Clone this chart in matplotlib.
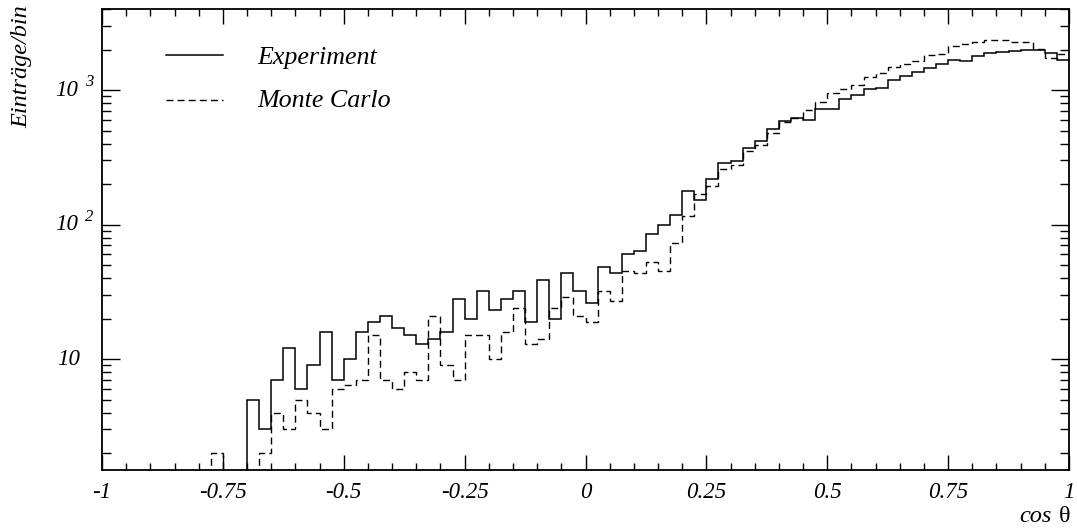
import numpy as np
import matplotlib
matplotlib.use("Agg")
import matplotlib.pyplot as plt
from matplotlib import transforms
from matplotlib.ticker import MultipleLocator, LogLocator, NullFormatter, FixedLocator

# ---------------- data ----------------
x_range = [-1.0, 1.0]
n_bins = 80

experiment = [
    0, 0, 0, 0, 0, 0, 0, 0, 0, 0,
    0, 0, 5, 3, 7, 12, 6, 9, 16, 7,
    10, 16, 19, 21, 17, 15, 13, 14, 16, 28,
    20, 32, 23, 28, 32, 19, 39, 20, 44, 32,
    26, 48, 44, 60, 64, 85, 99, 117, 178, 152,
    217, 285, 297, 373, 416, 511, 588, 620, 602, 719,
    719, 853, 913, 1017, 1040, 1180, 1264, 1353, 1449, 1552,
    1665, 1645, 1778, 1893, 1915, 1953, 1986, 1990, 1893, 1670,
]

monte_carlo = [
    0, 0, 0, 0, 0, 0, 0, 0, 0, 2,
    0, 0, 0, 2, 4, 3, 5, 4, 3, 6,
    6.4, 7, 15, 7, 6, 8, 7, 21, 9, 7,
    15, 15, 10, 16, 24, 13, 14, 24, 29, 21,
    19, 32, 27, 45, 44, 53, 45, 73, 115, 168,
    195, 259, 277, 352, 390, 482, 580, 615, 710, 818,
    945, 1017, 1084, 1242, 1330, 1482, 1552, 1641, 1810, 1860,
    2120, 2190, 2265, 2350, 2370, 2262, 2262, 2020, 1720, 1850,
]

x_ticks = [-1, -0.75, -0.5, -0.25, 0, 0.25, 0.5, 0.75, 1]
x_tick_labels = ["-1", "-0.75", "-0.5", "-0.25", "0", "0.25", "0.5", "0.75", "1"]
y_decades = [10, 100, 1000]
y_limits = [1.5, 4000]
legend_labels = ["Experiment", "Monte Carlo"]
y_label = "Einträge/bin"
x_label_text = "cos"
x_label_symbol = "θ"

# ---------------- figure ----------------
W, H = 1077, 531
fig = plt.figure(figsize=(W / 100, H / 100), dpi=100)
ax_l, ax_r, ax_b, ax_t = 102, 1069, 470, 9
ax = fig.add_axes([ax_l / W, (H - ax_b) / H, (ax_r - ax_l) / W, (ax_b - ax_t) / H])

serif = "Liberation Serif"
tick_font = dict(family=serif, style="italic", size=16.5)

edges = np.linspace(x_range[0], x_range[1], n_bins + 1)
exp_arr = np.asarray(experiment, dtype=float)
mc_arr = np.asarray(monte_carlo, dtype=float)
tiny = 1e-2  # empty bins lie below the visible range of the log axis
exp_plot = np.where(exp_arr > 0, exp_arr, tiny)
mc_plot = np.where(mc_arr > 0, mc_arr, tiny)

dash = (0, (5, 3))
ax.stairs(exp_plot, edges, baseline=None, color="black", lw=1.1)
ax.stairs(mc_plot, edges, baseline=None, color="black", lw=1.0, linestyle=dash)

ax.set_yscale("log")
ax.set_xlim(*x_range)
ax.set_ylim(*y_limits)

# x ticks
ax.xaxis.set_major_locator(FixedLocator(x_ticks))
ax.set_xticklabels(x_tick_labels, fontdict=tick_font)
ax.xaxis.set_minor_locator(MultipleLocator(0.05))
ax.tick_params(axis="x", which="major", direction="in", length=11, width=1.0,
               top=True, bottom=True, pad=9)
ax.tick_params(axis="x", which="minor", direction="in", length=5, width=1.0,
               top=True, bottom=True)

# y ticks
ax.yaxis.set_major_locator(LogLocator(base=10))
ax.yaxis.set_minor_locator(LogLocator(base=10, subs=np.arange(2, 10)))
ax.yaxis.set_minor_formatter(NullFormatter())
ax.yaxis.set_major_formatter(NullFormatter())
ax.tick_params(axis="y", which="major", direction="in", length=12.7, width=1.0,
               left=True, right=True)
ax.tick_params(axis="y", which="minor", direction="in", length=6.3, width=1.0,
               left=True, right=True)

for s in ax.spines.values():
    s.set_linewidth(1.3)

# y tick labels in the "10^n" style
ytrans = transforms.blended_transform_factory(ax.transAxes, ax.transData)
for v in y_decades:
    e = int(round(np.log10(v)))
    if e == 1:
        ax.text(0, v, "10", transform=transforms.offset_copy(ytrans, fig, x=-22, y=0, units="dots"),
                ha="right", va="center", **tick_font)
    else:
        ax.text(0, v, "10", transform=transforms.offset_copy(ytrans, fig, x=-24, y=0, units="dots"),
                ha="right", va="center", **tick_font)
        ax.text(0, v, str(e), transform=transforms.offset_copy(ytrans, fig, x=-17, y=8, units="dots"),
                ha="left", va="center", family=serif, style="italic", size=12)

# legend drawn in the ROOT style
lx0 = (166 - ax_l) / (ax_r - ax_l)
lx1 = (223 - ax_l) / (ax_r - ax_l)
tx = (257 - ax_l) / (ax_r - ax_l)
ly = [(ax_b - 55) / (ax_b - ax_t), (ax_b - 100) / (ax_b - ax_t)]
ty = [(ax_b - 58) / (ax_b - ax_t), (ax_b - 101) / (ax_b - ax_t)]
styles = [dict(color="black", lw=1.1), dict(color="black", lw=1.0, linestyle=dash)]
for lab, yy, tyy, st in zip(legend_labels, ly, ty, styles):
    ax.plot([lx0, lx1], [yy, yy], transform=ax.transAxes, **st)
    ax.text(tx, tyy, lab, transform=ax.transAxes, ha="left", va="center",
            family=serif, style="italic", size=18.7)

# axis titles
fig.text(22 / W, 1 - 5 / H, y_label, rotation=90, ha="center", va="top",
         family=serif, style="italic", size=17.5)
fig.text(1070 / W, 1 - 517 / H, x_label_symbol, ha="right", va="center",
         family=serif, size=17.5)
fig.text(1052 / W, 1 - 517 / H, x_label_text, ha="right", va="center",
         family=serif, style="italic", size=17.5)

fig.savefig("out.png", dpi=100)
